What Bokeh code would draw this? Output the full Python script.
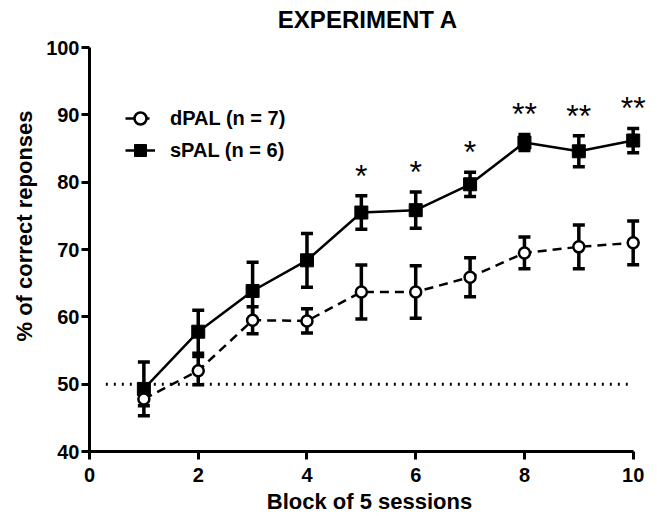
from bokeh.plotting import figure
from bokeh.models import (Range1d, Whisker, ColumnDataSource, Legend, LegendItem,
                          FixedTicker, TeeHead, Label)
from bokeh.core.properties import value
from bokeh.embed import file_html
from bokeh.resources import INLINE

# ---- data ----
blocks = [1, 2, 3, 4, 5, 6, 7, 8, 9, 10]
dpal_mean = [47.8, 52.0, 59.5, 59.4, 63.7, 63.7, 65.9, 69.5, 70.4, 71.0]
dpal_err = [1.0, 2.1, 2.0, 1.8, 4.0, 3.9, 2.9, 2.35, 3.25, 3.25]
spal_mean = [49.3, 57.8, 63.85, 68.4, 75.5, 75.85, 79.7, 85.9, 84.6, 86.2]
spal_err = [4.0, 3.2, 4.25, 4.0, 2.5, 2.7, 1.8, 1.2, 2.3, 1.8]
stars = ["", "", "", "", "*", "*", "*", "**", "**", "**"]
chance_level = 50
chance_extent = [0.3, 9.9]
x_ticks = [0, 2, 4, 6, 8, 10]
y_ticks = [40, 50, 60, 70, 80, 90, 100]
title_text = "EXPERIMENT A"

FONT = "Liberation Sans"

dsrc = ColumnDataSource(dict(
    x=blocks, y=dpal_mean,
    upper=[m + e for m, e in zip(dpal_mean, dpal_err)],
    lower=[m - e for m, e in zip(dpal_mean, dpal_err)]))
ssrc = ColumnDataSource(dict(
    x=blocks, y=spal_mean,
    upper=[m + e for m, e in zip(spal_mean, spal_err)],
    lower=[m - e for m, e in zip(spal_mean, spal_err)]))
star_src = ColumnDataSource(dict(
    x=blocks, y=[m + e + 3.0 for m, e in zip(spal_mean, spal_err)], t=stars))

# frame extends to the top of the canvas so the title can sit inside it;
# the y axis itself is bounded to 40..100
p = figure(width=657, height=516, output_backend="svg", toolbar_location=None,
           x_range=Range1d(0, 10.3), y_range=Range1d(40, 107),
           min_border_left=89, min_border_right=8, min_border_top=0,
           min_border_bottom=64)

p.add_layout(Label(x=5.12, y=104.2, text=title_text, text_align="center",
                   text_baseline="alphabetic", text_font=FONT,
                   text_font_size="24px", text_font_style="bold",
                   text_color="black"))

p.xgrid.visible = False
p.ygrid.visible = False
p.outline_line_color = None

for ax in (p.xaxis[0], p.yaxis[0]):
    ax.axis_line_width = 3
    ax.major_tick_line_width = 3
    ax.major_tick_out = 8
    ax.major_tick_in = 0
    ax.minor_tick_line_color = None
    ax.major_label_text_font = FONT
    ax.major_label_text_font_size = "20px"
    ax.major_label_text_font_style = "bold"
    ax.major_label_text_color = "black"
    ax.axis_label_text_font = FONT
    ax.axis_label_text_font_size = "22px"
    ax.axis_label_text_font_style = "bold"
    ax.axis_label_text_color = "black"

p.xaxis.ticker = FixedTicker(ticks=x_ticks)
p.yaxis.ticker = FixedTicker(ticks=y_ticks)
p.xaxis.bounds = (0, 10)
p.yaxis.bounds = (40, 100)
p.xaxis.axis_label = "Block of 5 sessions"
p.yaxis.axis_label = "% of correct reponses"
p.xaxis.major_label_standoff = 8
p.yaxis.major_label_standoff = 2
p.xaxis.axis_label_standoff = 4
p.yaxis.axis_label_standoff = 6

# chance line
p.line(chance_extent, [chance_level, chance_level], line_color="black",
       line_width=3, line_dash="2 6")

# error bars
for src in (ssrc, dsrc):
    w = Whisker(base="x", upper="upper", lower="lower", source=src,
                line_width=3.5, line_color="black",
                upper_head=TeeHead(size=12, line_width=3.5, line_color="black"),
                lower_head=TeeHead(size=12, line_width=3.5, line_color="black"))
    p.add_layout(w)

sline = p.line("x", "y", source=ssrc, line_color="black", line_width=2.5)
smark = p.scatter("x", "y", source=ssrc, marker="square", size=13,
                  fill_color="black", line_color="black")
dline = p.line("x", "y", source=dsrc, line_color="black", line_width=2.5,
               line_dash="9 6")
dmark = p.scatter("x", "y", source=dsrc, marker="circle", size=11,
                  fill_color="white", line_color="black", line_width=2.5)

p.text("x", "y", text="t", source=star_src, text_align="center",
       text_baseline="alphabetic", text_font=value(FONT),
       text_font_size="32px", text_color="black")

legend = Legend(items=[
    LegendItem(label="dPAL (n = 7)", renderers=[dline, dmark]),
    LegendItem(label="sPAL (n = 6)", renderers=[sline, smark])],
    location=(36, 286), border_line_color=None, background_fill_alpha=0,
    glyph_width=30, glyph_height=30, spacing=2, padding=10, label_standoff=15,
    label_text_font=FONT, label_text_font_size="20px",
    label_text_font_style="bold", label_text_color="black")
p.add_layout(legend)

open("out.html", "w").write(file_html(p, INLINE))
